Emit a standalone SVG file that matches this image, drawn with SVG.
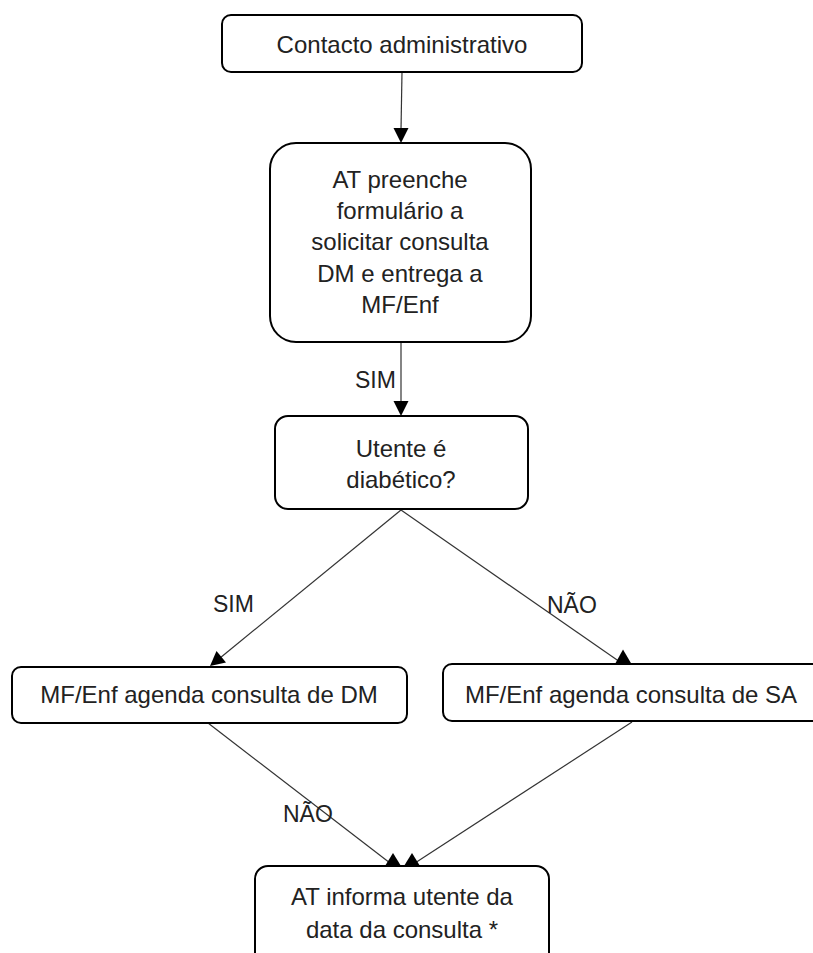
<svg xmlns="http://www.w3.org/2000/svg" width="813" height="953" viewBox="0 0 813 953">
<style>
.box{fill:#fff;stroke:#000;stroke-width:2}
.t{font-family:"Liberation Sans",Arial,sans-serif;font-size:24px;fill:#222;text-anchor:middle}
.lbl{font-family:"Liberation Sans",Arial,sans-serif;font-size:23px;fill:#222}
.ln{stroke:#333;stroke-width:1.2;fill:none}
.ah{fill:#000}
</style>
<rect width="813" height="953" fill="#fff"/>
<g id="connectors">
<line class="ln" x1="402" y1="72" x2="401" y2="130"/>
<polygon class="ah" points="401,143 393.5,128 408.5,128"/>
<line class="ln" x1="401" y1="342" x2="401" y2="403"/>
<polygon class="ah" points="401,416 393.5,401 408.5,401"/>
<line class="ln" x1="401" y1="510" x2="220" y2="658"/>
<polygon class="ah" points="210,666 216.5,651 226,662.5"/>
<line class="ln" x1="401" y1="510" x2="620" y2="662"/>
<polygon class="ah" points="615,664 623,649.5 631.5,664"/>
<line class="ln" x1="208" y1="723" x2="390" y2="863"/>
<polygon class="ah" points="385,866 393,853 401,866"/>
<line class="ln" x1="632" y1="722" x2="415" y2="863"/>
<polygon class="ah" points="404,866 412,853 420,866"/>
<text class="lbl" x="355" y="388">SIM</text>
<text class="lbl" x="213" y="612">SIM</text>
<text class="lbl" x="547" y="613">NÃO</text>
<text class="lbl" x="283" y="822">NÃO</text>
</g>
<g id="n1">
<rect class="box" x="222" y="15" width="360" height="57" rx="9"/>
<text class="t" x="402" y="53">Contacto administrativo</text>
</g>
<g id="n2">
<rect class="box" x="270" y="143" width="261" height="199" rx="26"/>
<text class="t" x="400" y="188">AT preenche</text>
<text class="t" x="400" y="219">formulário a</text>
<text class="t" x="400" y="250">solicitar consulta</text>
<text class="t" x="400" y="282">DM e entrega a</text>
<text class="t" x="400" y="313">MF/Enf</text>
</g>
<g id="n3">
<rect class="box" x="275" y="416" width="253" height="93" rx="13"/>
<text class="t" x="401" y="457">Utente é</text>
<text class="t" x="401" y="488">diabético?</text>
</g>
<g id="n4">
<rect class="box" x="12" y="667" width="395" height="56" rx="9"/>
<text class="t" x="209" y="703">MF/Enf agenda consulta de DM</text>
</g>
<g id="n5">
<rect class="box" x="443" y="664" width="380" height="57" rx="9"/>
<text class="t" x="631" y="703">MF/Enf agenda consulta de SA</text>
</g>
<g id="n6">
<rect class="box" x="255" y="866" width="294" height="110" rx="13"/>
<text class="t" x="402" y="905">AT informa utente da</text>
<text class="t" x="402" y="938">data da consulta *</text>
</g>
</svg>
